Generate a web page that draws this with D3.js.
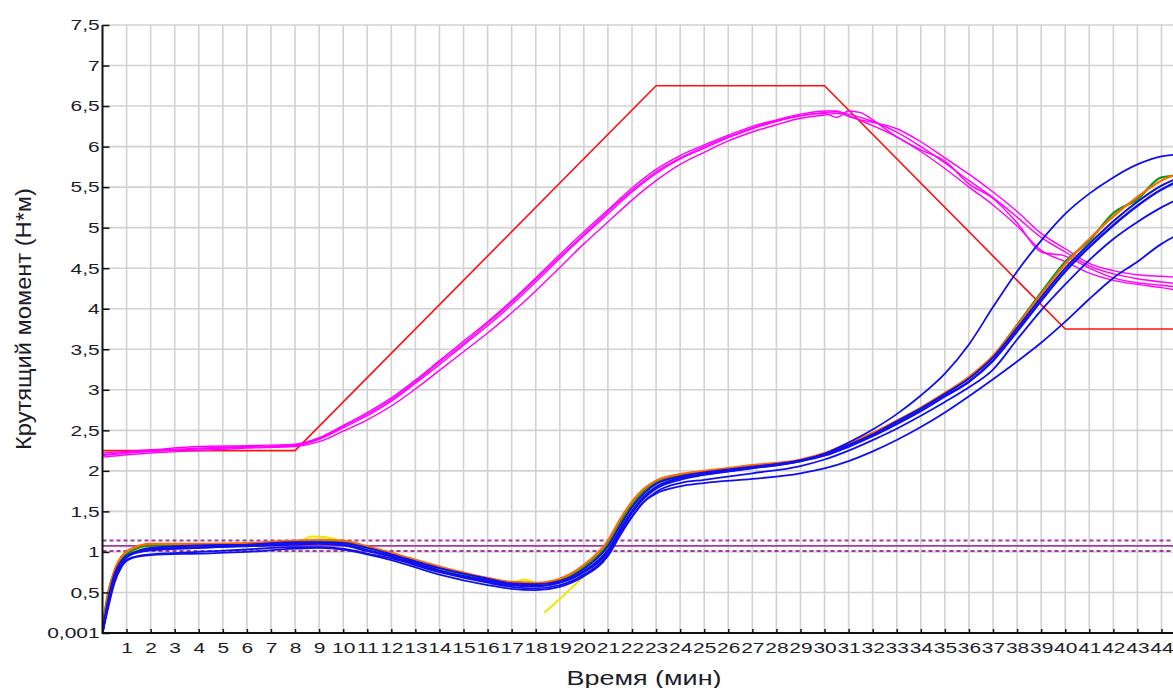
<!DOCTYPE html>
<html>
<head>
<meta charset="utf-8">
<script src="https://cdn.jsdelivr.net/npm/d3@7"></script>
<style>
  body { margin: 0; background: #fff; }
  svg { display: block; font-family: "Liberation Sans", Arial, sans-serif; }
</style>
</head>
<body>
<svg id="chart" width="1173" height="688"></svg>
<script>
// tick labels
var xTicks = [1,2,3,4,5,6,7,8,9,10,11,12,13,14,15,16,17,18,19,20,21,22,
              23,24,25,26,27,28,29,30,31,32,33,34,35,36,37,38,39,40,41,42,43,44];
var yTicks = [0, 0.5, 1, 1.5, 2, 2.5, 3, 3.5, 4, 4.5, 5, 5.5, 6, 6.5, 7, 7.5];

// set-point profile (red)
var tSet = [0, 8, 23, 30, 40, 45];
var vSet = [2.25, 2.25, 6.75, 6.75, 3.75, 3.75];

// limit lines (purple)
var limitSolid = 1.075;
var limitDashed = [1.14, 1.01];

// magenta runs
var tMag = [0,2,4,6,8, 9,10,11,12,13, 14,15,16,17,18, 19,20,21,22,23,
            24,25,26,27,28, 29,30,30.5,31,31.5, 32,33,34,35,36, 37,38,39,40,41, 42,43,44,44.6];
var mag1 = [2.19,2.24,2.27,2.29,2.31, 2.39,2.53,2.68,2.86,3.08, 3.31,3.55,3.79,4.05,4.33,
            4.62,4.90,5.17,5.44,5.67, 5.85,5.98,6.11,6.22,6.31, 6.38,6.42,6.43,6.40,6.36,
            6.31,6.18,6.00,5.80,5.58, 5.37,5.13,4.88,4.70,4.53, 4.43,4.37,4.33,4.31];
var mag2 = [2.22,2.26,2.30,2.31,2.33, 2.41,2.56,2.72,2.90,3.12, 3.36,3.60,3.84,4.10,4.38,
            4.67,4.95,5.22,5.49,5.72, 5.89,6.02,6.14,6.25,6.33, 6.40,6.44,6.44,6.37,6.33,
            6.30,6.22,6.06,5.86,5.66, 5.44,5.20,4.93,4.74,4.56, 4.47,4.42,4.40,4.39];
var mag3 = [2.17,2.22,2.25,2.28,2.30, 2.36,2.49,2.63,2.80,3.01, 3.24,3.47,3.70,3.95,4.22,
            4.51,4.80,5.07,5.34,5.58, 5.78,5.93,6.07,6.18,6.27, 6.35,6.39,6.41,6.38,6.32,
            6.26,6.12,5.94,5.73,5.50, 5.28,5.02,4.72,4.58,4.44, 4.35,4.30,4.26,4.23];
var mag4 = [2.20,2.25,2.28,2.30,2.32, 2.40,2.55,2.70,2.88,3.10, 3.34,3.57,3.82,4.08,4.36,
            4.64,4.92,5.20,5.46,5.69, 5.86,6.00,6.12,6.23,6.32, 6.38,6.41,6.36,6.44,6.42,
            6.33,6.12,5.96,5.82,5.54, 5.36,5.06,4.70,4.65,4.50, 4.38,4.32,4.29,4.27];

// torque runs (blue bundle and others)
var tRun = [0,0.25,0.5,0.8,1.2, 2,4,6,8,9, 10,11,12,14,16, 17,18,19,20,21,
            21.5,22,22.5,23,24, 25,27,29,30,31, 32,33,34,35,36, 37,38,39,40,41, 42,43,44,44.6];
var blue1 = [0.02,0.42,0.72,0.89,0.98, 1.03,1.055,1.08,1.10,1.105, 1.09,1.02,0.95,0.77,0.645,
             0.595,0.58,0.625,0.76,1.02, 1.27,1.50,1.68,1.80,1.91, 1.96,2.04,2.12,2.19,2.30,
             2.43,2.58,2.74,2.92,3.10, 3.36,3.72,4.10,4.46,4.76, 5.03,5.27,5.47,5.56];
var blue2 = [0.0,0.38,0.68,0.87,0.97, 1.05,1.08,1.09,1.12,1.12, 1.11,1.05,0.97,0.80,0.67,
             0.61,0.60,0.64,0.79,1.07, 1.32,1.55,1.72,1.84,1.93, 1.98,2.05,2.13,2.21,2.32,
             2.45,2.61,2.77,2.95,3.14, 3.40,3.76,4.14,4.50,4.80, 5.08,5.32,5.52,5.60];
var orange = [0.05,0.50,0.78,0.95,1.04, 1.10,1.10,1.11,1.14,1.15, 1.14,1.07,0.99,0.82,0.68,
              0.63,0.62,0.67,0.84,1.14, 1.40,1.62,1.78,1.88,1.96, 2.00,2.07,2.14,2.22,2.34,
              2.47,2.62,2.78,2.96,3.16, 3.42,3.79,4.18,4.55,4.86, 5.14,5.38,5.58,5.66];
var green = [0.08,0.52,0.76,0.92,1.01, 1.08,1.09,1.10,1.13,1.13, 1.12,1.05,0.98,0.80,0.67,
             0.62,0.61,0.65,0.81,1.10, 1.36,1.58,1.75,1.86,1.95, 1.99,2.06,2.13,2.21,2.33,
             2.46,2.61,2.77,2.95,3.15, 3.41,3.80,4.20,4.58,4.84, 5.18,5.35,5.62,5.64];
var blueLowB = [0.0,0.33,0.62,0.82,0.92, 0.96,0.98,1.00,1.04,1.05, 1.03,0.97,0.90,0.72,0.59,
                0.545,0.53,0.57,0.70,0.95, 1.20,1.43,1.62,1.74,1.85, 1.89,1.97,2.06,2.14,2.25,
                2.38,2.52,2.68,2.85,3.03, 3.25,3.62,3.98,4.30,4.60, 4.86,5.07,5.25,5.34];
var blueLowA = [0.0,0.35,0.65,0.84,0.93, 0.97,1.00,1.03,1.06,1.06, 1.04,0.98,0.92,0.75,0.62,
                0.57,0.55,0.59,0.72,0.97, 1.22,1.44,1.62,1.72,1.81, 1.85,1.90,1.97,2.03,2.12,
                2.24,2.38,2.54,2.72,2.92, 3.13,3.35,3.58,3.84,4.12, 4.38,4.58,4.80,4.90];
var blueUp = [0.0,0.40,0.70,0.88,0.97, 1.02,1.05,1.07,1.09,1.10, 1.08,1.01,0.94,0.76,0.64,
              0.59,0.575,0.62,0.75,1.00, 1.25,1.48,1.66,1.78,1.89, 1.95,2.03,2.12,2.21,2.35,
              2.51,2.70,2.93,3.20,3.56, 4.02,4.46,4.84,5.17,5.42, 5.62,5.78,5.88,5.90];

// yellow run has a break near 18 min
var tYellow = [0.3,1.2,2,4,6, 8,8.7,9.3,10,11, 12,14,16,17,17.5, 18,18.2,18.35,19,19.5,
               20,21,22,22.7,23, 24,25,27,29,30, 32,34,36,38,40, 42,44,44.6];
var yellow = [0.45,0.99,1.05,1.07,1.09, 1.11,1.19,1.18,1.12,1.04, 0.97,0.79,0.66,0.62,0.66,
              0.61,null,0.25,0.42,0.56, 0.70,1.05,1.52,1.80,1.84, 1.93,1.97,2.05,2.12,2.20,
              2.44,2.76,3.12,3.74,4.50, 5.08,5.52,5.60];

var W = 1173, H = 688;
var svg = d3.select("#chart");

var x = d3.scaleLinear().domain([0, 44]).range([102.5, 1161.5]);
var y = d3.scaleLinear().domain([0, 7.5]).range([633, 25]);

// clip for the plot area (runs off the right edge)
svg.append("clipPath").attr("id", "plot")
  .append("rect")
  .attr("x", x(0)).attr("y", y(7.5))
  .attr("width", W - x(0)).attr("height", y(0) - y(7.5));

// grid
var grid = svg.append("g");
grid.selectAll(".gx").data(xTicks).enter().append("line")
  .attr("x1", function(d) { return x(d); }).attr("x2", function(d) { return x(d); })
  .attr("y1", y(0)).attr("y2", y(7.5))
  .attr("stroke", "#d2d2d2").attr("stroke-width", 1.6);
grid.selectAll(".gy").data(yTicks.slice(1)).enter().append("line")
  .attr("x1", x(0)).attr("x2", W)
  .attr("y1", function(d) { return y(d); }).attr("y2", function(d) { return y(d); })
  .attr("stroke", "#d2d2d2").attr("stroke-width", 1.6);

var plot = svg.append("g").attr("clip-path", "url(#plot)");

// limit lines
plot.append("line")
  .attr("x1", x(0)).attr("x2", W)
  .attr("y1", y(limitSolid)).attr("y2", y(limitSolid))
  .attr("stroke", "#a33aa3").attr("stroke-width", 1.6);
plot.selectAll(".lim").data(limitDashed).enter().append("line")
  .attr("x1", x(0)).attr("x2", W)
  .attr("y1", function(d) { return y(d); }).attr("y2", function(d) { return y(d); })
  .attr("stroke", "#a33aa3").attr("stroke-width", 2)
  .attr("stroke-dasharray", "4,3");

function zip(t, v) {
  return t.map(function(d, i) { return [d, v[i]]; });
}

var straight = d3.line()
  .x(function(d) { return x(d[0]); })
  .y(function(d) { return y(d[1]); });

var smooth = d3.line()
  .defined(function(d) { return d[1] != null; })
  .x(function(d) { return x(d[0]); })
  .y(function(d) { return y(d[1]); })
  .curve(d3.curveMonotoneX);

// red set-point
plot.append("path")
  .attr("d", straight(zip(tSet, vSet)))
  .attr("fill", "none").attr("stroke", "#ff1010").attr("stroke-width", 1.6);

var runs = [
  { t: tMag, v: mag1, color: "#ff00ff", w: 1.4 },
  { t: tMag, v: mag2, color: "#ff00ff", w: 1.4 },
  { t: tMag, v: mag3, color: "#ff00ff", w: 1.4 },
  { t: tMag, v: mag4, color: "#ff00ff", w: 1.4 },
  { t: tYellow, v: yellow, color: "#f2e600", w: 2 },
  { t: tRun, v: green, color: "#119911", w: 2.2 },
  { t: tRun, v: orange, color: "#ff6a00", w: 2.2 },
  { t: tRun, v: blueLowA, color: "#1010ee", w: 1.8 },
  { t: tRun, v: blueLowB, color: "#1010ee", w: 1.8 },
  { t: tRun, v: blueUp, color: "#1010ee", w: 1.8 },
  { t: tRun, v: blue2, color: "#1010ee", w: 2 },
  { t: tRun, v: blue1, color: "#1010ee", w: 2.4 }
];

plot.selectAll(".run").data(runs).enter().append("path")
  .attr("class", "run")
  .attr("d", function(d) { return smooth(zip(d.t, d.v)); })
  .attr("fill", "none")
  .attr("stroke", function(d) { return d.color; })
  .attr("stroke-width", function(d) { return d.w; })
  .attr("stroke-linejoin", "round");

// axes
var xAxis = d3.axisBottom(x).tickValues(xTicks).tickSizeInner(-4).tickSizeOuter(0)
  .tickFormat(function(d) { return d; });
var yAxis = d3.axisLeft(y).tickValues(yTicks).tickSizeInner(-7).tickSizeOuter(0)
  .tickFormat(function(d) { return d === 0 ? "0,001" : String(d).replace(".", ","); });

var gx = svg.append("g").attr("transform", "translate(0," + y(0) + ")").call(xAxis);
var gy = svg.append("g").attr("transform", "translate(" + x(0) + ",0)").call(yAxis);

[gx, gy].forEach(function(g) {
  g.select(".domain").remove();
  g.selectAll(".tick line").attr("stroke", "#111").attr("stroke-width", 1.5);
  g.selectAll(".tick text").attr("fill", "#1c1c2a").style("font-size", "15px");
});
gx.selectAll(".tick text").attr("y", 9).attr("transform", "scale(1.4,1)");
gy.selectAll(".tick text").attr("x", -2).attr("transform", "scale(1.4,1)");

svg.append("line")
  .attr("x1", x(0)).attr("x2", W).attr("y1", y(0)).attr("y2", y(0))
  .attr("stroke", "#111").attr("stroke-width", 2);
svg.append("line")
  .attr("x1", x(0)).attr("x2", x(0)).attr("y1", y(7.5)).attr("y2", y(0) + 1)
  .attr("stroke", "#111").attr("stroke-width", 2);

// titles
svg.append("text")
  .attr("x", 644).attr("y", 685)
  .attr("text-anchor", "middle")
  .attr("textLength", 155).attr("lengthAdjust", "spacingAndGlyphs")
  .attr("fill", "#1c1c2a").style("font-size", "20px")
  .text("Время (мин)");

svg.append("text")
  .attr("transform", "translate(31,319) rotate(-90) scale(1,1.2)")
  .attr("text-anchor", "middle")
  .attr("textLength", 262).attr("lengthAdjust", "spacingAndGlyphs")
  .attr("fill", "#1c1c2a").style("font-size", "18px")
  .text("Крутящий момент (Н*м)");
</script>
</body>
</html>
